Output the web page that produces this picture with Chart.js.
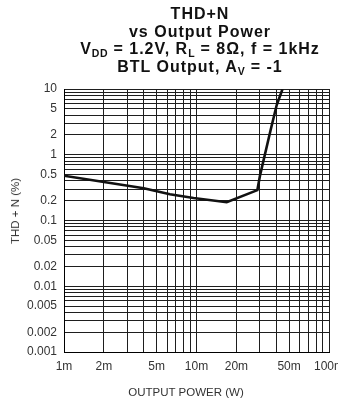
<!DOCTYPE html>
<html>
<head>
<meta charset="utf-8">
<script src="https://cdn.jsdelivr.net/npm/chart.js@4.4.1/dist/chart.umd.min.js"></script>
<style>
  body { margin: 0; background: #fff; }
  #wrap { position: relative; width: 338px; height: 403px; overflow: hidden; font-family: "Liberation Sans", Arial, sans-serif; }
  #chart { position: absolute; left: 0; top: 0; }
  #title {
    position: absolute; left: 40px; top: 5px; width: 320px;
    text-align: center; font-weight: bold; font-size: 16px; line-height: 17.5px;
    letter-spacing: 1px; color: #111;
  }
  #title sub { font-size: 10.5px; vertical-align: -3px; line-height: 0; letter-spacing: 0.5px; }
  #ytitle {
    position: absolute; left: 15px; top: 211px; white-space: nowrap;
    transform: translate(-50%, -50%) rotate(-90deg);
    font-size: 11.5px; color: #333;
  }
  #xtitle {
    position: absolute; left: 186px; top: 392px; white-space: nowrap;
    transform: translate(-50%, -50%);
    font-size: 11.5px; color: #333;
  }
</style>
</head>
<body>
<div id="wrap">
  <canvas id="chart" width="338" height="403"></canvas>
  <div id="title">THD+N<br>vs Output Power<br>V<sub>DD</sub> = 1.2V, R<sub>L</sub> = 8&Omega;, f = 1kHz<br>BTL Output, A<sub>V</sub> = -1</div>
  <div id="ytitle">THD + N (%)</div>
  <div id="xtitle">OUTPUT POWER (W)</div>
</div>
<script>
// output power (W) and THD+N (%)
const outputPower = [0.001, 0.004, 0.0063, 0.0095, 0.0169, 0.0288, 0.0302, 0.0363, 0.0403, 0.0446];
const thdN = [0.48, 0.31, 0.25, 0.22, 0.19, 0.29, 0.49, 2.4, 5.7, 10];

const xTickValues = [0.001, 0.002, 0.005, 0.01, 0.02, 0.05, 0.1];
const xTickLabels = ['1m', '2m', '5m', '10m', '20m', '50m', '100m'];
const yTickValues = [0.001, 0.002, 0.005, 0.01, 0.02, 0.05, 0.1, 0.2, 0.5, 1, 2, 5, 10];
const yTickLabels = ['0.001', '0.002', '0.005', '0.01', '0.02', '0.05', '0.1', '0.2', '0.5', '1', '2', '5', '10'];

// every 1..9 step of each decade gets a grid line
function decadeSteps(from, to) {
    const out = [];
    for (let d = from; d < to * 0.999; d *= 10) {
        for (let k = 1; k <= 9; k++) out.push(+(d * k).toPrecision(3));
    }
    out.push(to);
    return out;
}

function labelFor(values, labels, v) {
    const i = values.findIndex(t => Math.abs(t - v) / t < 1e-6);
    return i >= 0 ? labels[i] : '';
}

function noPadding(scale) {
    scale.paddingLeft = 0;
    scale.paddingRight = 0;
    scale.paddingTop = 0;
    scale.paddingBottom = 0;
}

const gridColor = '#1e1e1e';

new Chart(document.getElementById('chart'), {
    type: 'line',
    data: {
        datasets: [{
            data: outputPower.map((x, i) => ({ x: x, y: thdN[i] })),
            borderColor: '#111',
            borderWidth: 2.6,
            pointRadius: 0,
            tension: 0,
            fill: false
        }]
    },
    options: {
        responsive: false,
        animation: false,
        layout: { padding: { top: 89, right: 9, left: 0, bottom: 0 } },
        plugins: { legend: { display: false }, tooltip: { enabled: false }, title: { display: false } },
        scales: {
            x: {
                type: 'logarithmic',
                min: 0.001,
                max: 0.1,
                afterBuildTicks: scale => { scale.ticks = decadeSteps(0.001, 0.1).map(v => ({ value: v })); },
                afterFit: scale => { scale.height = 51; noPadding(scale); },
                grid: { color: gridColor, lineWidth: 1, drawTicks: false },
                border: { color: '#000', width: 1 },
                ticks: {
                    autoSkip: false,
                    maxRotation: 0,
                    padding: 7,
                    color: '#333',
                    font: { family: 'Liberation Sans', size: 12 },
                    callback: value => labelFor(xTickValues, xTickLabels, value)
                }
            },
            y: {
                type: 'logarithmic',
                min: 0.001,
                max: 10,
                afterBuildTicks: scale => { scale.ticks = decadeSteps(0.001, 10).map(v => ({ value: v })); },
                afterFit: scale => { scale.width = 64; noPadding(scale); },
                grid: { color: gridColor, lineWidth: 1, drawTicks: false },
                border: { color: '#000', width: 1 },
                ticks: {
                    autoSkip: false,
                    padding: 7,
                    color: '#333',
                    font: { family: 'Liberation Sans', size: 12 },
                    callback: value => labelFor(yTickValues, yTickLabels, value)
                }
            }
        }
    }
});
</script>
</body>
</html>
